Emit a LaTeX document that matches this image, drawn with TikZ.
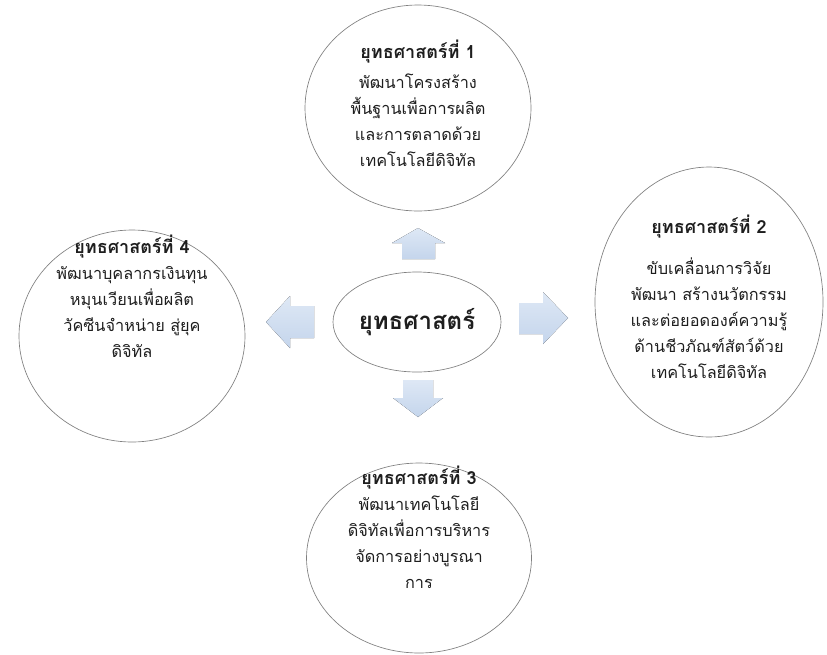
\documentclass[tikz,border=0pt]{standalone}
\usepackage{fontspec}
\newfontfamily\thaifont[Script=Thai]{Loma}
\usetikzlibrary{shapes.geometric}
\definecolor{arrowtop}{RGB}{222,232,245}
\definecolor{arrowbot}{RGB}{196,213,236}
\definecolor{ringgray}{RGB}{128,128,128}
\definecolor{inkgray}{RGB}{30,30,30}
\newcommand{\stitle}[1]{{\bfseries\fontsize{13.5}{19.5}\selectfont #1}}

\tikzset{
  ringbox/.style={ellipse, draw=ringgray, line width=0.5pt, fill=white, inner sep=0pt},
  stext/.style={align=center, inner sep=0pt, text=inkgray, font=\thaifont\fontsize{12.2}{19.5}\selectfont},
  blockarrow/.style={top color=arrowtop, bottom color=arrowbot, draw=none},
}

\begin{document}
\begin{tikzpicture}[x=0.75pt,y=-0.75pt]
		\useasboundingbox (0,0) rectangle (827,654);
		% block arrows
		\fill[blockarrow] (418,228) -- (445,243) -- (435,243) -- (435,259) -- (402,259) -- (402,243) -- (392,243) -- cycle;
		\fill[blockarrow] (418,417) -- (443,398) -- (433,398) -- (433,380) -- (403,380) -- (403,398) -- (393,398) -- cycle;
		\fill[blockarrow] (266,322) -- (290,296) -- (290,306) -- (314,306) -- (314,338) -- (290,338) -- (290,348) -- cycle;
		\fill[blockarrow] (568,318) -- (543,292) -- (543,303) -- (519,303) -- (519,334) -- (543,334) -- (543,344) -- cycle;
		% ellipses
		\node[ringbox, minimum width=169.5pt, minimum height=154.5pt] (s1) at (418,108) {};
		\node[ringbox, minimum width=171pt, minimum height=202.5pt] (s2) at (709,302) {};
		\node[ringbox, minimum width=168.75pt, minimum height=142.5pt] (s3) at (419,558) {};
		\node[ringbox, minimum width=169.5pt, minimum height=159pt] (s4) at (132,336) {};
		\node[ringbox, minimum width=126pt, minimum height=75pt, text=inkgray,
		      font=\thaifont\bfseries\fontsize{18}{22}\selectfont] (core) at (417,322) {ยุทธศาสตร์};
		% texts
		\node[stext] (s1text) at (418,103) {\stitle{ยุทธศาสตร์ที่ 1}\\[3pt]
			พัฒนาโครงสร้าง\\ พื้นฐานเพื่อการผลิต\\ และการตลาดด้วย\\ เทคโนโลยีดิจิทัล};
		\node[stext] (s2text) at (709,297) {\stitle{ยุทธศาสตร์ที่ 2}\\[11pt]
			ขับเคลื่อนการวิจัย\\ พัฒนา สร้างนวัตกรรม\\ และต่อยอดองค์ความรู้\\ ด้านชีวภัณฑ์สัตว์ด้วย\\ เทคโนโลยีดิจิทัล};
		\node[stext] (s3text) at (419,527) {\stitle{ยุทธศาสตร์ที่ 3}\\
			พัฒนาเทคโนโลยี\\ ดิจิทัลเพื่อการบริหาร\\ จัดการอย่างบูรณา\\ การ};
		\node[stext] (s4text) at (132,296) {\stitle{ยุทธศาสตร์ที่ 4}\\
			พัฒนาบุคลากรเงินทุน\\ หมุนเวียนเพื่อผลิต\\ วัคซีนจำหน่าย สู่ยุค\\ ดิจิทัล};
	\end{tikzpicture}
\end{document}
